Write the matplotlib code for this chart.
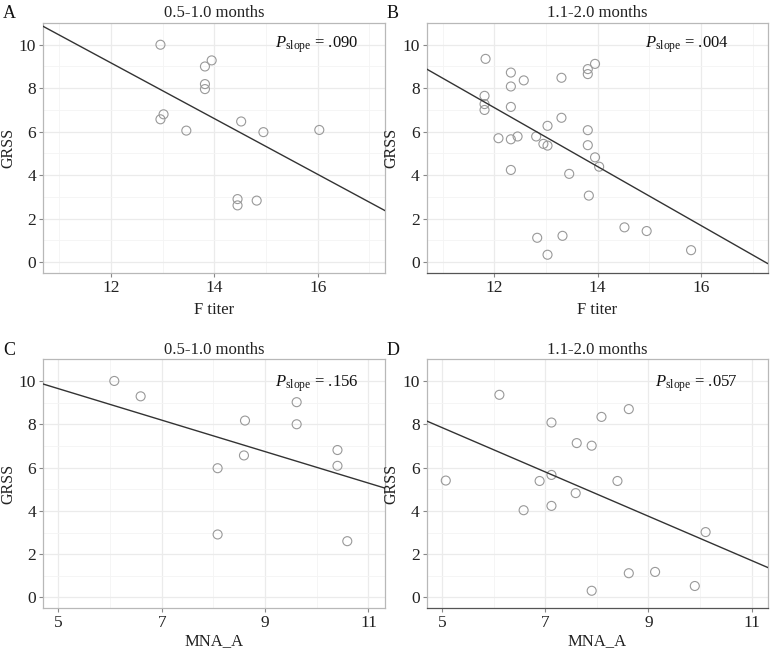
import numpy as np
import matplotlib
matplotlib.use("Agg")
import matplotlib.pyplot as plt

plt.rcParams['font.family'] = ['Liberation Serif', 'DejaVu Serif']
plt.rcParams['mathtext.fontset'] = 'custom'
plt.rcParams['mathtext.rm'] = 'Liberation Serif'
plt.rcParams['mathtext.it'] = 'Liberation Serif:italic'

# Panel A: F titer vs GRSS, 0.5-1.0 months
a_x = [12.96, 13.82, 13.95, 13.82, 13.82, 12.96, 13.02, 13.46, 14.52, 14.95, 16.03, 14.45, 14.45, 14.82]
a_y = [10.0, 9.0, 9.28, 8.19, 7.96, 6.57, 6.8, 6.05, 6.47, 5.98, 6.08, 2.9, 2.61, 2.83]

# Panel B: F titer vs GRSS, 1.1-2.0 months
b_x = [11.83, 11.81, 11.81, 11.81, 12.32, 12.32, 12.32, 12.32, 12.32, 12.08, 12.45, 12.57,
       12.81, 12.95, 13.03, 13.03, 12.83, 13.03, 13.30, 13.30, 13.32, 13.45, 13.81, 13.81,
       13.81, 13.81, 13.83, 13.95, 13.95, 14.03, 14.52, 14.95, 15.81]
b_y = [9.35, 7.65, 7.27, 7.0, 8.72, 8.08, 7.14, 5.65, 4.24, 5.70, 5.78, 8.36,
       5.78, 5.44, 5.36, 6.27, 1.12, 0.34, 8.48, 6.64, 1.21, 4.06, 8.88, 8.65,
       6.07, 5.38, 3.06, 9.12, 4.82, 4.39, 1.6, 1.43, 0.55]

# Panel C: MNA_A vs GRSS, 0.5-1.0 months
c_x = [6.08, 6.59, 8.08, 8.08, 8.59, 8.61, 9.61, 9.61, 10.4, 10.4, 10.59]
c_y = [10.0, 9.29, 5.97, 2.91, 6.56, 8.17, 9.02, 8.0, 6.81, 6.08, 2.6]

# Panel D: MNA_A vs GRSS, 1.1-2.0 months
d_x = [5.07, 6.11, 6.58, 6.89, 7.12, 7.12, 7.12, 7.61, 7.59, 7.9, 7.9, 8.09, 8.4,
       8.62, 8.62, 9.13, 9.9, 10.11]
d_y = [5.40, 9.36, 4.03, 5.38, 8.08, 5.66, 4.23, 7.13, 4.82, 7.01, 0.31, 8.34, 5.38,
       8.7, 1.12, 1.18, 0.53, 3.02]

# fitted lines: (x0, y0), (x1, y1)
a_fit = [(10.69, 10.85), (17.30, 2.37)]
b_fit = [(10.69, 8.88), (17.29, -0.06)]
c_fit = [(4.70, 9.86), (11.32, 5.05)]
d_fit = [(4.69, 8.16), (11.32, 1.38)]

titles = ["0.5-1.0 months", "1.1-2.0 months", "0.5-1.0 months", "1.1-2.0 months"]
letters = ["A", "B", "C", "D"]
pvals = [".090", ".004", ".156", ".057"]
xlabels = ["F titer", "F titer", "MNA_A", "MNA_A"]

fig = plt.figure(figsize=(7.7, 6.51), dpi=100)
W, H = 770, 651
boxes = [(43, 23, 385, 273), (426.7, 23, 768, 273),
         (43, 359.3, 385, 608.3), (426.7, 359.3, 768, 608.3)]
panels = [(a_x, a_y, a_fit), (b_x, b_y, b_fit), (c_x, c_y, c_fit), (d_x, d_y, d_fit)]

for i, (box, (xs, ys, fit)) in enumerate(zip(boxes, panels)):
    l, t, r, b = box
    ax = fig.add_axes([l / W, 1 - b / H, (r - l) / W, (b - t) / H])
    if i < 2:
        ax.set_xlim(10.69, 17.30)
        ax.set_xticks([12, 14, 16])
        ax.set_xticks([11, 13, 15, 17], minor=True)
        ptx = 16.79 if i == 0 else 16.55
        pty = 10.0
    else:
        ax.set_xlim(4.70, 11.32)
        ax.set_xticks([5, 7, 9, 11])
        ax.set_xticks([6, 8, 10], minor=True)
        ptx = 10.8 if i == 2 else 10.72
        pty = 9.85
    ax.set_ylim(-0.5, 11.0)
    ax.set_yticks([0, 2, 4, 6, 8, 10])
    ax.set_yticks([1, 3, 5, 7, 9], minor=True)

    ax.grid(which='major', color='#ebebeb', linewidth=0.9)
    ax.grid(which='minor', color='#f4f4f4', linewidth=0.6)
    ax.set_axisbelow(True)
    for s in ax.spines.values():
        s.set_color('#b8b8b8')
        s.set_linewidth(0.9)
    if i in (1, 3):
        ax.spines['bottom'].set_color('#555555')
    ax.tick_params(which='major', length=3, color='#888888', labelsize=12.5,
                   labelcolor='#222222', pad=2)
    ax.tick_params(which='minor', length=0)

    ax.scatter(xs, ys, s=42, facecolors='none', edgecolors='#999999', linewidths=0.8, zorder=3)
    ax.plot([fit[0][0], fit[1][0]], [fit[0][1], fit[1][1]], color='#333333', linewidth=1.0, zorder=4)

    ax.text(ptx, pty, r'$P_{\mathrm{slope}}$ = ' + pvals[i], ha='right', va='center',
            fontsize=12, color='#111111')
    ax.set_title(titles[i], fontsize=12, pad=4, color='#222222')
    ax.set_xlabel(xlabels[i], fontsize=12, labelpad=4 if i < 2 else 1, color='#222222')
    ax.set_ylabel("GRSS", fontsize=11.5, labelpad=2, color='#222222')
    fig.text((l - 40) / W, 1 - (t - 9) / H, letters[i], fontsize=13, ha='left', va='center',
             color='#111111')

fig.savefig("out.png", dpi=100)
